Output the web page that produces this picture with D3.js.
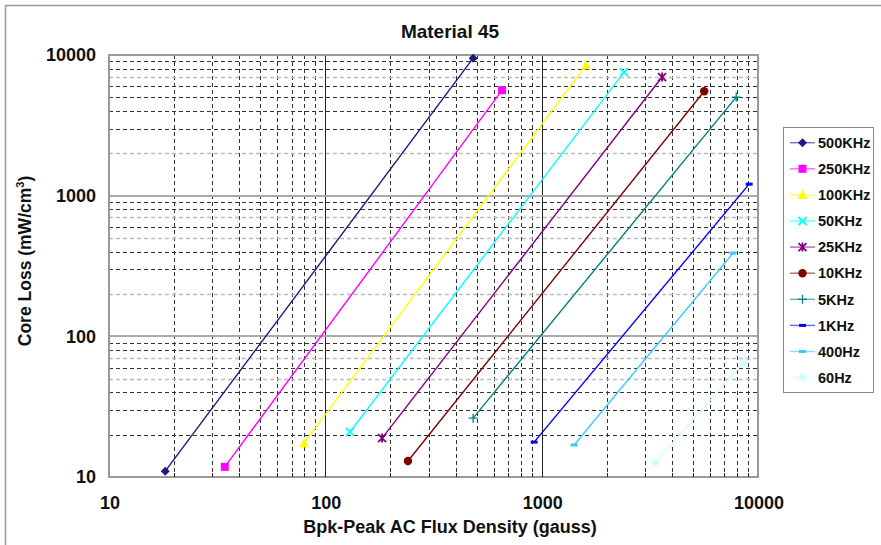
<!DOCTYPE html>
<html>
<head>
<meta charset="utf-8">
<script src="https://cdn.jsdelivr.net/npm/d3@7"></script>
<style>
  body { margin: 0; background: #fff; }
  svg { display: block; font-family: "Liberation Sans", Arial, sans-serif; }
</style>
</head>
<body>
<svg id="chart" width="881" height="545"></svg>
<script>
// series (start and end point of each line)
const freqLabels = ["500KHz", "250KHz", "100KHz", "50KHz", "25KHz", "10KHz", "5KHz", "1KHz", "400Hz", "60Hz"];
const bStart    = [18.2, 34.3, 79.7, 130, 183, 241, 482, 923, 1413, 3340];
const bEnd      = [482, 656, 1603, 2404, 3603, 5640, 7930, 9100, 7670, 8530];
const lossStart = [11.0, 11.8, 17.4, 20.9, 18.9, 13.0, 26.2, 17.7, 16.9, 12.6];
const lossEnd   = [9500, 5620, 8470, 7550, 6970, 5530, 5020, 1208, 391, 64.6];

const xTicks = [10, 100, 1000, 10000];
const yTicks = [10, 100, 1000, 10000];

const colors  = ["#1a1a80", "#ff00ff", "#ffff00", "#00ffff", "#800080", "#800000", "#008080", "#0000ff", "#33ccff", "#ccffff"];
const markers = ["diamond", "square", "triangle", "x", "star", "circle", "plus", "dash", "dash", "diamond"];

const svg = d3.select("#chart");
const plot = { left: 109, right: 758, top: 55, bottom: 477 };

const x = d3.scaleLog().domain([10, 10000]).range([plot.left, plot.right]);
const y = d3.scaleLog().domain([10, 10000]).range([plot.bottom, plot.top]);

// outer frame (top and left edges only)
svg.append("path")
    .attr("d", "M5.5,545 V5.5 H881")
    .attr("fill", "none")
    .attr("stroke", "#999")
    .attr("stroke-width", 1.5);

// minor values for grid lines
const minors = [];
[10, 100, 1000].forEach(d => {
    for (let k = 2; k <= 9; k++) minors.push(d * k);
});
const lightY = [7000, 2000, 700, 500, 200, 70, 50];

const grid = svg.append("g");

// vertical minor grid
grid.selectAll(".vminor").data(minors).join("line")
    .attr("x1", d => Math.round(x(d)) + 0.5)
    .attr("x2", d => Math.round(x(d)) + 0.5)
    .attr("y1", plot.top)
    .attr("y2", plot.bottom)
    .attr("stroke", "#333")
    .attr("stroke-width", 1)
    .attr("stroke-dasharray", "4,3");

// horizontal minor grid
grid.selectAll(".hminor").data(minors).join("line")
    .attr("x1", plot.left)
    .attr("x2", plot.right)
    .attr("y1", d => Math.round(y(d)) + 0.5)
    .attr("y2", d => Math.round(y(d)) + 0.5)
    .attr("stroke", d => lightY.includes(d) ? "#bbb" : "#333")
    .attr("stroke-width", d => lightY.includes(d) ? 1.5 : 1)
    .attr("stroke-dasharray", "4,3");

// major lines at the decades
grid.selectAll(".vmajor").data([100, 1000]).join("line")
    .attr("x1", d => Math.round(x(d)) + 0.5)
    .attr("x2", d => Math.round(x(d)) + 0.5)
    .attr("y1", plot.top)
    .attr("y2", plot.bottom)
    .attr("stroke", "#222")
    .attr("stroke-width", 1);

grid.selectAll(".hmajor").data([100, 1000]).join("line")
    .attr("x1", plot.left)
    .attr("x2", plot.right)
    .attr("y1", d => Math.round(y(d)))
    .attr("y2", d => Math.round(y(d)))
    .attr("stroke", "#aaa")
    .attr("stroke-width", 2);

// plot frame
svg.append("rect")
    .attr("x", plot.left)
    .attr("y", plot.top)
    .attr("width", plot.right - plot.left)
    .attr("height", plot.bottom - plot.top)
    .attr("fill", "none")
    .attr("stroke", "#999")
    .attr("stroke-width", 2);

// small inward ticks on the x axis
svg.append("g").selectAll("line").data(minors.concat([100, 1000])).join("line")
    .attr("x1", d => Math.round(x(d)) + 0.5)
    .attr("x2", d => Math.round(x(d)) + 0.5)
    .attr("y1", plot.bottom)
    .attr("y2", d => xTicks.includes(d) ? plot.bottom - 7 : plot.bottom - 4)
    .attr("stroke", "#222");

// tick labels
svg.append("g").selectAll("text").data(xTicks).join("text")
    .attr("x", d => x(d) + 1)
    .attr("y", 509)
    .attr("text-anchor", "middle")
    .attr("font-size", 18)
    .attr("font-weight", "bold")
    .attr("fill", "#111")
    .text(d => d);

svg.append("g").selectAll("text").data(yTicks).join("text")
    .attr("x", 96)
    .attr("y", d => y(d))
    .attr("dy", "0.35em")
    .attr("text-anchor", "end")
    .attr("font-size", 18)
    .attr("font-weight", "bold")
    .attr("fill", "#111")
    .text(d => d);

// titles
svg.append("text")
    .attr("x", 450).attr("y", 38)
    .attr("text-anchor", "middle")
    .attr("font-size", 19)
    .attr("font-weight", "bold")
    .attr("fill", "#111")
    .text("Material 45");

svg.append("text")
    .attr("x", 450).attr("y", 533)
    .attr("text-anchor", "middle")
    .attr("font-size", 18)
    .attr("font-weight", "bold")
    .attr("fill", "#111")
    .text("Bpk-Peak AC Flux Density (gauss)");

const yTitle = svg.append("text")
    .attr("transform", "translate(31,261) rotate(-90)")
    .attr("text-anchor", "middle")
    .attr("font-size", 17.5)
    .attr("font-weight", "bold")
    .attr("fill", "#111");
yTitle.append("tspan").text("Core Loss (mW/cm");
yTitle.append("tspan").attr("font-size", 11).attr("dy", -7).text("3");
yTitle.append("tspan").attr("dy", 7).text(")");

// marker drawing
function drawMarker(g, type, color, cx, cy) {
    const m = g.append("g").attr("transform", `translate(${cx},${cy})`);
    if (type === "diamond") {
        m.append("path").attr("d", "M0,-4.5L4.5,0L0,4.5L-4.5,0Z").attr("fill", color);
    } else if (type === "square") {
        m.append("rect").attr("x", -4).attr("y", -4).attr("width", 8).attr("height", 8).attr("fill", color);
    } else if (type === "triangle") {
        m.append("path").attr("d", "M0,-5L5,4L-5,4Z").attr("fill", color);
    } else if (type === "circle") {
        m.append("circle").attr("r", 4.2).attr("fill", color);
    } else if (type === "x") {
        m.append("path").attr("d", "M-4,-4L4,4M-4,4L4,-4").attr("stroke", color).attr("stroke-width", 1.8);
    } else if (type === "star") {
        m.append("path").attr("d", "M-4,-4L4,4M-4,4L4,-4M0,-4.5L0,4.5").attr("stroke", color).attr("stroke-width", 1.8);
    } else if (type === "plus") {
        m.append("path").attr("d", "M-4.5,0L4.5,0M0,-4.5L0,4.5").attr("stroke", color).attr("stroke-width", 1.3);
    } else if (type === "dash") {
        m.append("rect").attr("x", -3.5).attr("y", -1.5).attr("width", 7).attr("height", 3).attr("fill", color);
    }
}

// series lines
const series = svg.append("g");
freqLabels.forEach((name, i) => {
    const pts = [[bStart[i], lossStart[i]], [bEnd[i], lossEnd[i]]];
    series.append("path")
        .datum(pts)
        .attr("d", d3.line().x(d => x(d[0])).y(d => y(d[1])))
        .attr("fill", "none")
        .attr("stroke", colors[i])
        .attr("stroke-width", 1.4);
    pts.forEach(p => drawMarker(series, markers[i], colors[i], x(p[0]), y(p[1])));
});

// legend
const legend = svg.append("g");
legend.append("rect")
    .attr("x", 783.5).attr("y", 127.5)
    .attr("width", 90).attr("height", 265)
    .attr("fill", "#fff")
    .attr("stroke", "#888")
    .attr("stroke-width", 1);

freqLabels.forEach((name, i) => {
    const ly = 142.7 + i * 26.1;
    legend.append("line")
        .attr("x1", 790).attr("x2", 815)
        .attr("y1", ly).attr("y2", ly)
        .attr("stroke", colors[i])
        .attr("stroke-width", 1.4)
        .attr("opacity", 0.6);
    drawMarker(legend, markers[i], colors[i], 802.5, ly);
    legend.append("text")
        .attr("x", 818).attr("y", ly)
        .attr("dy", "0.36em")
        .attr("font-size", 14.5)
        .attr("font-weight", "bold")
        .attr("fill", "#111")
        .text(name);
});
</script>
</body>
</html>
